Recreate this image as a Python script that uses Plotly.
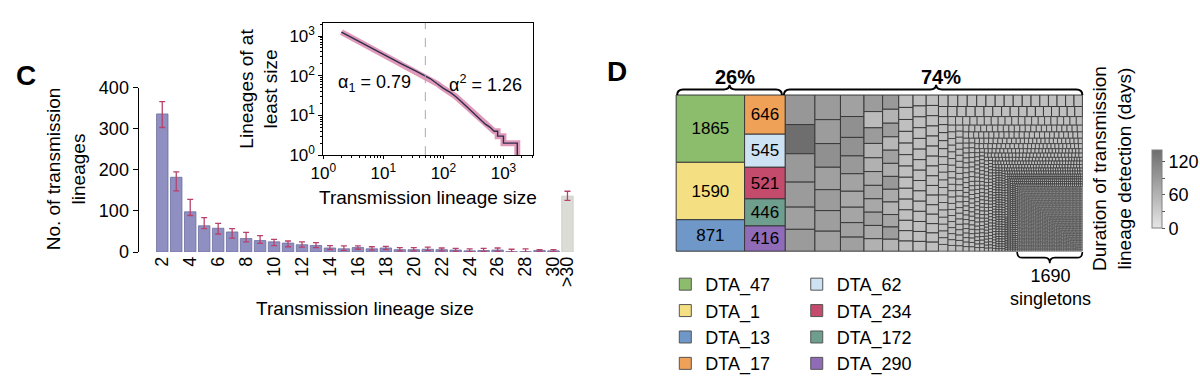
import plotly.graph_objects as go

FONT = "Liberation Sans, Arial, Helvetica, sans-serif"
W, H = 1200, 382

# ---------------- Panel C data ----------------
size_labels = [str(k) for k in range(2, 31)] + [">30"]
lineage_counts = [336, 182, 98, 64, 58, 49, 33, 28, 25, 22,
                  18, 16, 10, 8, 11, 8, 10, 6, 6, 7,
                  6, 5, 3, 4, 5, 1, 1, 4, 3, 136]
err_upper = [366, 195, 128, 84, 70, 57, 48, 40, 31, 27,
             25, 23, 16, 15, 15, 13, 14, 11, 11, 12,
             10, 9, 8, 9, 10, 7, 8, 6, 6, 148]
err_lower = [303, 149, 89, 57, 44, 34, 25, 21, 16, 13,
             12, 11, 6, 4, 7, 5, 6, 3, 3, 4,
             3, 2, 1, 2, 2, 0, 0, 2, 1, 126]
x_tick_labels = [str(k) for k in range(2, 31, 2)] + [">30"]
y_ticks = [0, 100, 200, 300, 400]

# inset: lineages of at least size
ccdf_size = [2, 3, 5, 10, 20, 35, 50, 60, 80, 100, 130, 160, 200, 250, 300,
             350, 400, 500, 600, 700, 800, 800, 1000, 1000, 1700, 1700]
ccdf_count = [1250, 900, 610, 350, 200, 130, 98, 85, 62, 48, 38, 30, 22, 16, 12,
              10, 8, 6, 5, 4, 4, 3, 3, 2, 2, 1]
breakpoint_size = 50
inset_ticks = [1, 10, 100, 1000]
inset_ticktext = ["10<sup>0</sup>", "10<sup>1</sup>", "10<sup>2</sup>", "10<sup>3</sup>"]

# ---------------- Panel D data ----------------
dta_names = ["DTA_47", "DTA_1", "DTA_13", "DTA_17", "DTA_62", "DTA_234", "DTA_172", "DTA_290"]
dta_sizes = [1865, 1590, 871, 646, 545, 521, 446, 416]
dta_colors = ["#8cbd6c", "#f4df82", "#6f97c8", "#f0a158", "#cde2f2", "#c44b6b", "#6e9e8e", "#8f6bb8"]

gray_large = [
    354, 350, 340, 300, 266, 262,
    255, 248, 245, 232, 217, 213, 207,
    205, 199, 176, 170, 167, 152, 147, 138, 134,
    125, 122, 118, 108, 104, 104, 101, 101, 100, 100, 94,
    93, 91, 89, 87, 86, 85, 84, 83, 82, 81, 80, 78,
    72, 70, 69, 68, 67, 66, 65, 64, 63, 62, 61, 60, 59,
    60, 58, 58, 58, 57, 57, 56, 56, 55, 55, 55, 54, 54, 53, 53, 52,
    52, 51, 51, 50, 50, 50, 49, 49, 48, 48, 48, 47, 47, 46, 46, 45, 45, 45, 44, 44,
    43, 43, 42, 42, 42, 41, 41, 40, 40, 40, 39, 39, 38, 38, 37, 37, 36, 36, 36, 35,
    35, 34, 34, 33, 33, 32, 32, 31, 31, 31, 31, 31, 31, 31,
]
gray_dur = [
    92, 140, 90, 88, 82, 88,
    88, 86, 100, 82, 86, 84, 80,
    80, 100, 98, 90, 78, 72, 76, 80, 82,
    86, 50, 88, 60, 62, 70, 76, 72, 80, 70, 62,
    90, 60, 85, 55, 80, 65, 90, 70, 60, 75, 85, 60,
]
default_dur = 45
singletons_n = 1690
dur_max = 140
cbar_ticks = [0, 30, 60, 90, 120]
cbar_ticktext = ["0", "", "60", "", "120"]


def X(px):
    return px / W


def Y(py):
    return 1 - py / H


def gray_hex(d):
    t = max(0.0, min(1.0, d / dur_max))
    v = int(round(230 - t * (230 - 110)))
    return "#%02x%02x%02x" % (v, v, v)


fig = go.Figure()

# ---- bars ----
lav = "#8f8fc2"
fig.add_trace(go.Bar(
    x=size_labels, y=lineage_counts,
    marker=dict(color=[lav] * 29 + ["#dcdcd7"],
                line=dict(color=["#6d6d9e"] * 29 + ["#c9c9c4"], width=0.8)),
    error_y=dict(type="data", symmetric=False,
                 array=[u - v for u, v in zip(err_upper, lineage_counts)],
                 arrayminus=[v - l for l, v in zip(err_lower, lineage_counts)],
                 color="#b8426c", thickness=1.3, width=3),
    showlegend=False, hoverinfo="skip",
    xaxis="x", yaxis="y",
))

# ---- inset ----
fig.add_trace(go.Scatter(
    x=ccdf_size, y=ccdf_count, mode="lines",
    line=dict(color="rgba(214,120,160,0.75)", width=6),
    showlegend=False, hoverinfo="skip", xaxis="x2", yaxis="y2"))
fig.add_trace(go.Scatter(
    x=ccdf_size, y=ccdf_count, mode="lines",
    line=dict(color="#2d2d52", width=1.4),
    showlegend=False, hoverinfo="skip", xaxis="x2", yaxis="y2"))
fig.add_trace(go.Scatter(
    x=[breakpoint_size, breakpoint_size], y=[1, 10 ** 3.33], mode="lines",
    line=dict(color="#aaaaaa", width=1, dash="dash"),
    showlegend=False, hoverinfo="skip", xaxis="x2", yaxis="y2"))

# ---- treemap ----
tm_ids, tm_parents, tm_values, tm_colors, tm_text, tm_lw = ["root"], [""], [0], ["#ffffff"], [""], [0]
for n, s, c in zip(dta_names, dta_sizes, dta_colors):
    tm_ids.append(n); tm_parents.append("root"); tm_values.append(s)
    tm_colors.append(c); tm_text.append(str(s)); tm_lw.append(1)
for i, s in enumerate(gray_large):
    d = gray_dur[i] if i < len(gray_dur) else default_dur
    tm_ids.append("G%d" % i); tm_parents.append("root"); tm_values.append(s)
    tm_colors.append(gray_hex(d)); tm_text.append(""); tm_lw.append(1)
for k, cnt in zip(range(2, 31), lineage_counts[:29]):
    for j in range(cnt):
        tm_ids.append("S%d_%d" % (k, j)); tm_parents.append("root"); tm_values.append(k)
        tm_colors.append(gray_hex(default_dur)); tm_text.append(""); tm_lw.append(0.8)
for j in range(singletons_n):
    tm_ids.append("U%d" % j); tm_parents.append("root"); tm_values.append(1)
    tm_colors.append(gray_hex(default_dur)); tm_text.append(""); tm_lw.append(0.5)

fig.add_trace(go.Treemap(
    ids=tm_ids, labels=tm_ids, parents=tm_parents, values=tm_values,
    branchvalues="remainder", sort=True,
    text=tm_text, textinfo="text", textposition="middle center",
    textfont=dict(size=17, color="black", family=FONT),
    marker=dict(colors=tm_colors, line=dict(color="#3a3a3a", width=tm_lw),
                pad=dict(t=0, l=0, r=0, b=0), depthfade=False),
    tiling=dict(packing="squarify", squarifyratio=1.25, pad=0),
    pathbar=dict(visible=False),
    domain=dict(x=[X(671), X(1082)], y=[Y(261), Y(92)]),
    hoverinfo="skip",
))

# ---- legend dummy traces ----
for i, (n, c) in enumerate(zip(dta_names, dta_colors)):
    fig.add_trace(go.Scatter(
        x=[0], y=[0], mode="markers", name=n,
        marker=dict(symbol="square", size=12, color=c, line=dict(color="#555555", width=1)),
        legend="legend" if i < 4 else "legend2",
        xaxis="x3", yaxis="y3", hoverinfo="skip", showlegend=True))

# ---- colorbar dummy ----
fig.add_trace(go.Scatter(
    x=[0, 0], y=[0, 0], mode="markers", showlegend=False, hoverinfo="skip",
    marker=dict(color=[0, dur_max], cmin=0, cmax=dur_max, opacity=0,
                colorscale=[[0, "#e6e6e6"], [1, "#6e6e6e"]], showscale=True,
                colorbar=dict(x=X(1152), xanchor="left", y=Y(194), yanchor="middle",
                              len=78, lenmode="pixels", thickness=10,
                              xpad=0, ypad=0, outlinewidth=1, outlinecolor="#808080",
                              tickvals=cbar_ticks, ticktext=cbar_ticktext,
                              ticks="outside", ticklen=3, tickcolor="#555555",
                              tickfont=dict(size=18, family=FONT, color="black"))),
    xaxis="x3", yaxis="y3"))

# ---- braces ----
def brace_up(x0, x1, xc, yb, ym, yt, r=6):
    return ("M {a},{b} Q {a},{m} {a2},{m} L {c1},{m} Q {c},{m} {c},{t} "
            "Q {c},{m} {c2},{m} L {e1},{m} Q {e},{m} {e},{b}").format(
        a=X(x0), b=Y(yb), m=Y(ym), a2=X(x0 + r), c1=X(xc - r), c=X(xc), t=Y(yt),
        c2=X(xc + r), e1=X(x1 - r), e=X(x1))

shapes = [
    dict(type="path", xref="paper", yref="paper", path=brace_up(672, 778, 725, 92, 86, 81),
         line=dict(color="black", width=2)),
    dict(type="path", xref="paper", yref="paper", path=brace_up(780, 1082, 934, 92, 86, 81),
         line=dict(color="black", width=2)),
    dict(type="path", xref="paper", yref="paper", path=brace_up(1016, 1082, 1049, 262, 268, 274, 5),
         line=dict(color="black", width=1.6)),
]

def ann(text, x, y, size=19, angle=0, bold=False, xanchor="center"):
    return dict(text=("<b>%s</b>" % text) if bold else text, x=X(x), y=Y(y),
                xref="paper", yref="paper", showarrow=False, textangle=angle,
                xanchor=xanchor, yanchor="middle",
                font=dict(size=size, family=FONT, color="black"))

annotations = [
    ann("C", 13, 71, size=28, bold=True),
    ann("D", 611, 67, size=28, bold=True),
    ann("No. of transmission<br>lineages", 54, 172, angle=-90),
    ann("Transmission lineage size", 356, 323),
    ann("Lineages of at<br>least size", 248, 85, angle=-90),
    ann("Transmission lineage size", 420, 203),
    ann("α<sub>1</sub> = 0.79", 366, 80, size=18),
    ann("α<sup>2</sup> = 1.26", 478, 80, size=18),
    ann("26%", 731, 73, size=20, bold=True),
    ann("74%", 939, 73, size=20, bold=True),
    ann("1690<br>singletons", 1050, 300, size=18),
    ann("Duration of transmission<br>lineage detection (days)", 1112, 172, angle=-90),
]

minor_vals_x = [2, 3, 4, 5, 6, 7, 8, 9, 20, 30, 40, 50, 60, 70, 80, 90,
                200, 300, 400, 500, 600, 700, 800, 900, 2000, 3000]
minor_vals_y = [2, 3, 4, 5, 6, 7, 8, 9, 20, 30, 40, 50, 60, 70, 80, 90,
                200, 300, 400, 500, 600, 700, 800, 900, 2000]

fig.update_layout(
    width=W, height=H, margin=dict(l=0, r=0, t=0, b=0),
    paper_bgcolor="white", plot_bgcolor="white",
    font=dict(family=FONT, color="black", size=18),
    bargap=0.18,
    xaxis=dict(domain=[X(127), X(569.5)], type="category", categoryorder="array",
               categoryarray=size_labels, range=[-1.7, 29.6],
               tickmode="array", tickvals=x_tick_labels, tickangle=-90,
               showline=False, ticks="", showgrid=False, zeroline=False,
               tickfont=dict(size=18), anchor="y"),
    yaxis=dict(domain=[Y(262), Y(84)], range=[0, 400], tickvals=y_ticks,
               showline=True, linecolor="black", linewidth=1, ticks="outside",
               ticklen=5, tickcolor="black", showgrid=False, zeroline=False,
               tickfont=dict(size=18), anchor="x"),
    xaxis2=dict(domain=[X(314), X(526)], type="log", range=[0, 3.49],
                tickvals=inset_ticks, ticktext=inset_ticktext,
                showline=True, mirror=True, linecolor="black", linewidth=1,
                ticks="outside", ticklen=3, tickcolor="black", showgrid=False,
                zeroline=False, tickfont=dict(size=17), anchor="y2",
                minor=dict(tickvals=minor_vals_x, ticks="outside", ticklen=2,
                           tickcolor="black", showgrid=False)),
    yaxis2=dict(domain=[Y(157), Y(14)], type="log", range=[0, 3.33],
                tickvals=inset_ticks, ticktext=inset_ticktext,
                showline=True, mirror=True, linecolor="black", linewidth=1,
                ticks="outside", ticklen=4, tickcolor="black", showgrid=False,
                zeroline=False, tickfont=dict(size=17), anchor="x2",
                minor=dict(tickvals=minor_vals_y, ticks="outside", ticklen=2,
                           tickcolor="black", showgrid=False)),
    xaxis3=dict(domain=[0, 0.01], range=[10, 11], visible=False, anchor="y3"),
    yaxis3=dict(domain=[0, 0.01], range=[10, 11], visible=False, anchor="x3"),
    legend=dict(x=X(660), y=Y(277), xanchor="left", yanchor="top",
                font=dict(size=18, family=FONT), bgcolor="rgba(0,0,0,0)",
                tracegroupgap=0, itemwidth=30),
    legend2=dict(x=X(793), y=Y(277), xanchor="left", yanchor="top",
                 font=dict(size=18, family=FONT), bgcolor="rgba(0,0,0,0)",
                 tracegroupgap=0, itemwidth=30),
    shapes=shapes, annotations=annotations,
)

fig.write_html("out.html", config={"displayModeBar": False},
               post_script="document.body.style.margin='0px';")
